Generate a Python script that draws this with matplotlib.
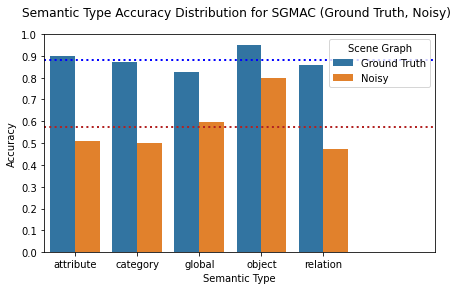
import matplotlib
matplotlib.use("Agg")
import matplotlib.pyplot as plt
import numpy as np

# data
semantic_types = ["attribute", "category", "global", "object", "relation"]
ground_truth = [0.898, 0.873, 0.827, 0.950, 0.858]
noisy = [0.510, 0.500, 0.595, 0.798, 0.473]
hue_labels = ["Ground Truth", "Noisy"]
hue_colors = ["#3274a1", "#e1812c"]

fig, ax = plt.subplots(figsize=(6.25, 4.04), dpi=72)

x = np.arange(len(semantic_types))
width = 0.4
ax.bar(x - width / 2, ground_truth, width, color=hue_colors[0], label=hue_labels[0])
ax.bar(x + width / 2, noisy, width, color=hue_colors[1], label=hue_labels[1])

# mean lines
ax.axhline(np.mean(ground_truth), color="blue", linestyle=":", linewidth=2)
ax.axhline(np.mean(noisy), color="firebrick", linestyle=":", linewidth=2)

ax.set_xticks(x)
ax.set_xticklabels(semantic_types)
ax.set_xlim(-0.5, 5.8)
ax.set_ylim(0, 1.0)
ax.set_yticks(np.arange(0, 1.01, 0.1))
ax.set_xlabel("Semantic Type")
ax.set_ylabel("Accuracy")
fig.suptitle("Semantic Type Accuracy Distribution for SGMAC (Ground Truth, Noisy)",
             fontsize=12.2, x=0.526, y=0.952, va="center")
ax.legend(title="Scene Graph", loc="upper right")

fig.subplots_adjust(left=0.098, right=0.967, top=0.88, bottom=0.13)
fig.savefig("out.png")
